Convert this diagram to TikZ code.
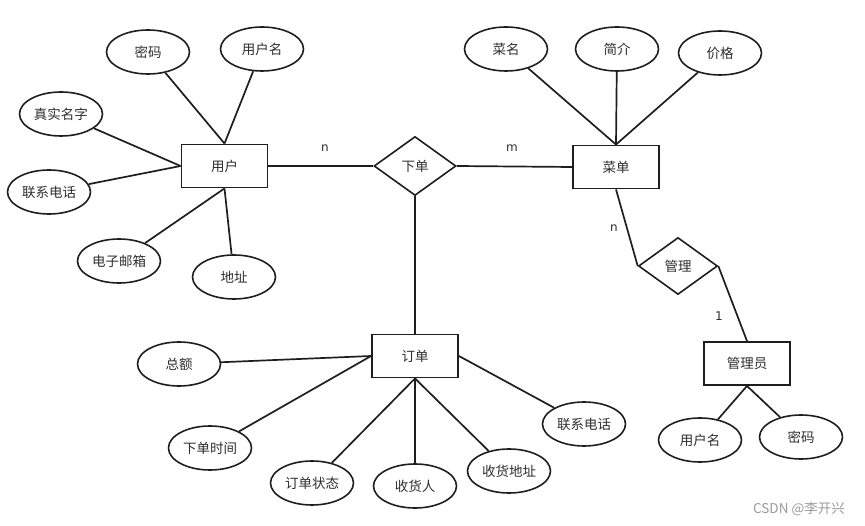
\documentclass[tikz,border=0pt]{standalone}
\usepackage{fontspec}
\newfontfamily\cjk{Noto Sans CJK SC}
\usetikzlibrary{shapes.geometric}
\definecolor{ink}{HTML}{1E1E1E}
\definecolor{txt}{HTML}{2E2E2E}
\definecolor{wm}{HTML}{9A9A9A}
\begin{document}
\begin{tikzpicture}[x=1pt,y=-1pt,line width=1.7pt,draw=ink,
  attr/.style={ellipse,draw=ink,line width=1.6pt,minimum width=83pt,minimum height=44pt,inner sep=0pt,text=txt,font=\cjk\fontsize{13.5}{15}\selectfont},
  entity/.style={rectangle,draw=ink,line width=1.9pt,minimum width=86pt,minimum height=43pt,inner sep=0pt,text=txt,font=\cjk\fontsize{13.5}{15}\selectfont},
  rel/.style={diamond,draw=ink,line width=1.6pt,minimum width=82pt,minimum height=59pt,inner sep=0pt,text=txt,font=\cjk\fontsize{13.5}{15}\selectfont},
  card/.style={text=txt,font=\fontspec{DejaVu Sans}\fontsize{12}{14}\selectfont},
  conn/.style={draw=ink,line width=1.7pt}]
\useasboundingbox (0,0) rectangle (865,526);
% entities and relationships
\node[entity] (user) at (224.5,166) {用户};
\node[rel] (order) at (415,166) {下单};
\node[entity] (menu) at (616,167) {菜单};
\node[rel,minimum width=79pt,minimum height=57pt] (manage) at (678,266) {管理};
\node[entity] (admin) at (747,363.5) {管理员};
\node[entity] (bill) at (415,356) {订单};
% user attributes
\node[attr] (upwd) at (148,52) {密码};
\node[attr] (uname) at (262,49) {用户名};
\node[attr] (ureal) at (61,114) {真实名字};
\node[attr] (utel) at (49,192) {联系电话};
\node[attr] (umail) at (119,261) {电子邮箱};
\node[attr] (uaddr) at (234,277) {地址};
% menu attributes
\node[attr] (mname) at (506,49) {菜名};
\node[attr] (mdesc) at (617,49) {简介};
\node[attr] (mprice) at (720,53) {价格};
% admin attributes
\node[attr] (aname) at (700,440) {用户名};
\node[attr] (apwd) at (801,437) {密码};
% order attributes
\node[attr] (btotal) at (179,364) {总额};
\node[attr] (btime) at (210,448) {下单时间};
\node[attr] (bstate) at (312,483) {订单状态};
\node[attr] (brecv) at (415,486) {收货人};
\node[attr] (baddr) at (509,471) {收货地址};
\node[attr] (btel) at (584,424) {联系电话};
% connectors
\draw[conn] (upwd) -- (user.north);
\draw[conn] (uname) -- (user.north);
\draw[conn] (ureal) -- (user.west);
\draw[conn] (utel) -- (user.west);
\draw[conn] (umail) -- (user.south);
\draw[conn] (uaddr) -- (user.south);
\draw[conn] (user.east) -- (order.west);
\draw[conn] (order.east) -- (menu.west);
\draw[conn] (order.south) -- (bill.north);
\draw[conn] (mname) -- (menu.north);
\draw[conn] (mdesc) -- (menu.north);
\draw[conn] (mprice) -- (menu.north);
\draw[conn] (menu.south) -- (manage.west);
\draw[conn] (manage.east) -- (admin.north);
\draw[conn] (aname) -- (admin.south);
\draw[conn] (apwd) -- (admin.south);
\draw[conn] (btotal) -- (bill.west);
\draw[conn] (btime) -- (bill.west);
\draw[conn] (bstate) -- (bill.south);
\draw[conn] (brecv) -- (bill.south);
\draw[conn] (baddr) -- (bill.south);
\draw[conn] (btel) -- (bill.east);
% cardinalities
\node[card] (c1) at (325,148) {n};
\node[card] (c2) at (512,148) {m};
\node[card] (c3) at (614,228) {n};
\node[card] (c4) at (719,316) {1};
% watermark
\node[text=wm,font=\cjk\fontsize{13.5}{15}\selectfont] (wmark) at (799,509) {CSDN @李开兴};
\end{tikzpicture}
\end{document}
